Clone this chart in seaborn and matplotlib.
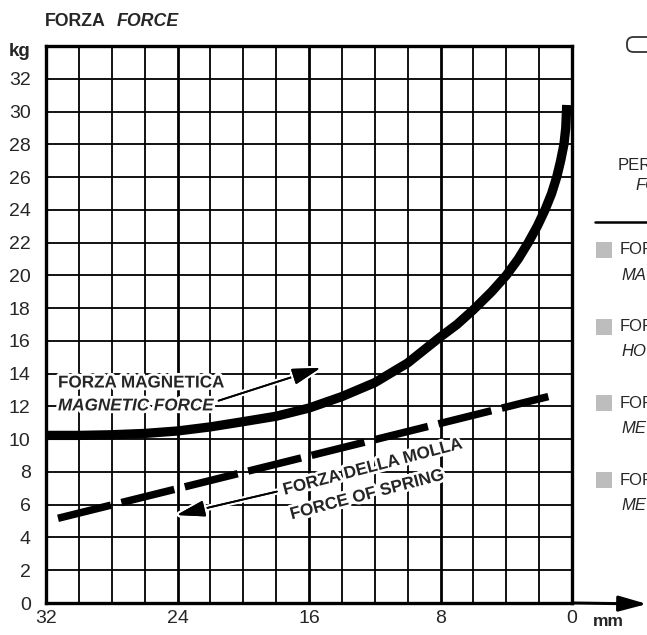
import matplotlib
matplotlib.use('Agg')
import matplotlib.pyplot as plt
import matplotlib.patheffects as pe
from matplotlib.patches import Rectangle, FancyBboxPatch
from matplotlib.lines import Line2D
import seaborn as sns
import pandas as pd

# magnetic force curve (mm, kg)
gap_mm = [32, 30, 28, 26, 24, 22, 20, 18, 16, 14, 12, 10, 8, 7.0, 6, 4.89, 4, 3.27, 2.66,
          2.11, 1.64, 1.24, 0.93, 0.69, 0.49, 0.38, 0.32]
magnetic_kg = [10.23, 10.23, 10.27, 10.35, 10.5, 10.75, 11.07, 11.4, 11.9, 12.6, 13.45, 14.65,
               16.25, 17.0, 17.9, 19.0, 20.0, 21.0, 22.0, 23.0, 24.0, 25.0, 26.0, 27.0, 28.0,
               29.0, 30.4]

# spring force is a straight line
spring_mm = [31.27, 1.44]
spring_kg = [5.17, 12.6]

y_ticks = list(range(0, 33, 2))
x_ticks = [32, 24, 16, 8, 0]

side_items = [('FOR', 'MA'), ('FOR', 'HO'), ('FOR', 'ME'), ('FOR', 'ME')]

sns.set_style('white')
plt.rcParams['font.family'] = ['Liberation Sans', 'DejaVu Sans']

W, H = 647, 635
fig = plt.figure(figsize=(W / 100, H / 100), dpi=100)
ax = fig.add_axes([46 / W, 1 - 603 / H, (572 - 46) / W, (603 - 46) / H])


def fp(x, y):
    return (x / W, 1 - y / H)


df_mag = pd.DataFrame({'mm': gap_mm, 'kg': magnetic_kg})
df_spr = pd.DataFrame({'mm': spring_mm, 'kg': spring_kg})

sns.lineplot(data=df_mag, x='mm', y='kg', ax=ax, color='black', lw=6.7, sort=False,
             estimator=None, solid_capstyle='butt', solid_joinstyle='round', zorder=4)
sns.lineplot(data=df_spr, x='mm', y='kg', ax=ax, color='black', lw=5.4, sort=False,
             estimator=None, zorder=4)
spring_line = ax.get_lines()[-1]
spring_line.set_dashes([7.27, 1.44])
spring_line.set_dash_capstyle('butt')

ax.set_xlim(32, 0)
ax.set_ylim(0, 34)
ax.set_xticks(x_ticks)
ax.set_xticks(list(range(0, 33, 2)), minor=True)
ax.set_yticks(y_ticks)
ax.set_xticklabels([str(t) for t in x_ticks], fontsize=14)
ax.set_yticklabels([str(t) for t in y_ticks], fontsize=14)
ax.tick_params(axis='both', which='both', length=0)
ax.tick_params(axis='y', pad=11)
ax.tick_params(axis='x', pad=5)
ax.set_xlabel('')
ax.set_ylabel('')

ax.grid(axis='x', which='major', color='black', lw=2.0)
ax.grid(axis='x', which='minor', color='black', lw=1.3)
ax.grid(axis='y', which='major', color='black', lw=1.3)
ax.set_axisbelow(True)
for s in ax.spines.values():
    s.set_color('black')
    s.set_linewidth(2.4)

# x axis arrow beyond 0
ax.annotate('', xy=(1.0, 1 - 604 / H), xycoords='figure fraction', xytext=(0, 0),
            textcoords='data', annotation_clip=False,
            arrowprops=dict(arrowstyle='-|>,head_length=1.7,head_width=0.47', mutation_scale=10,
                            lw=2.2, color='black', shrinkA=0, shrinkB=0))

white = [pe.withStroke(linewidth=4, foreground='white')]

# labels on the curves
ax.text(31.27, 13.43, 'FORZA MAGNETICA', fontsize=12.3, fontweight='bold', ha='left',
        va='center', zorder=6, path_effects=white)
ax.text(31.27, 12.03, 'MAGNETIC FORCE', fontsize=12.3, fontweight='bold', style='italic',
        ha='left', va='center', zorder=6, path_effects=white)
ax.text(12.1, 8.3, 'FORZA DELLA MOLLA', fontsize=12.3, fontweight='bold', ha='center',
        va='center', rotation=14.7, rotation_mode='anchor', zorder=6, path_effects=white)
ax.text(12.45, 6.6, 'FORCE OF SPRING', fontsize=12.3, fontweight='bold', ha='center',
        va='center', rotation=14.7, rotation_mode='anchor', zorder=6, path_effects=white)

for tail, tip in [((21.5, 12.35), (15.3, 14.35)), ((17.96, 6.8), (24.05, 5.37))]:
    a = ax.annotate('', xy=tip, xytext=tail, zorder=6,
                    arrowprops=dict(arrowstyle='-|>,head_length=1.75,head_width=0.5',
                                    mutation_scale=10, lw=1.3, color='black',
                                    shrinkA=0, shrinkB=0))
    a.arrow_patch.set_path_effects([pe.withStroke(linewidth=4.5, foreground='white'), pe.Normal()])

# titles around the axes
fig.text(*fp(45, 22), 'FORZA', fontsize=12.8, fontweight='bold', va='center', ha='left')
fig.text(*fp(117, 22), 'FORCE', fontsize=12.8, fontweight='bold', style='italic',
         va='center', ha='left')
fig.text(*fp(30, 52), 'kg', fontsize=13.5, fontweight='bold', va='center', ha='right')
fig.text(*fp(593, 621), 'mm', fontsize=12.5, fontweight='bold', va='center', ha='left')

# side panel, cut by the image edge
fig.add_artist(FancyBboxPatch(fp(627, 52), 60 / W, 15 / H, boxstyle='round,pad=0,rounding_size=0.01',
                              transform=fig.transFigure, fill=False, lw=1.3, ec='#333333'))
fig.text(*fp(618, 166), 'PER', fontsize=12, va='center', ha='left')
fig.text(*fp(635, 186), 'FO', fontsize=12, style='italic', va='center', ha='left')
fig.add_artist(Line2D([595 / W, 1.0], [1 - 222 / H] * 2, transform=fig.transFigure,
                      color='black', lw=1.8))
for i, (top, bottom) in enumerate(side_items):
    yc = 250 + i * 76.7
    fig.add_artist(Rectangle(fp(596, yc + 8), 16 / W, 16 / H, transform=fig.transFigure,
                             color='#bdbdbd', lw=0))
    fig.text(*fp(620, yc), top, fontsize=12, va='center', ha='left')
    fig.text(*fp(621, yc + 25), bottom, fontsize=12, style='italic', va='center', ha='left')

fig.savefig('out.png', dpi=100)
